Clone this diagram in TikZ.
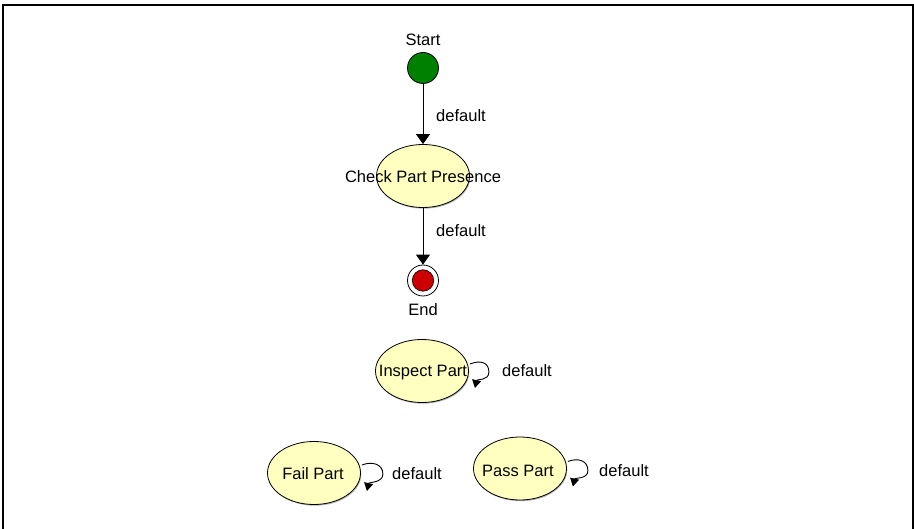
\documentclass[tikz,border=0pt]{standalone}
\usepackage{fontspec}
\setmainfont{Liberation Sans}
\usetikzlibrary{arrows.meta,shapes.geometric,shadows}
\definecolor{stfill}{RGB}{255,255,192}
\definecolor{stgreen}{RGB}{0,128,0}
\definecolor{endred}{RGB}{204,0,0}
\begin{document}
\begin{tikzpicture}[x=1pt,y=-1pt, font=\fontsize{16.5}{19}\selectfont,
  state/.style={ellipse, draw=black, line width=0.8pt, fill=stfill, inner sep=0pt,
    minimum width=93pt, minimum height=63pt,
    drop shadow={shadow xshift=0.8pt, shadow yshift=-1.2pt, fill=black, opacity=0.3}},
  lbl/.style={anchor=base, inner sep=0pt},
  flow/.style={line width=1pt, -{Triangle[width=14pt,length=10pt]}},
  selfloop/.style={line width=0.9pt, -{Triangle[width=9pt,length=8pt]}}]
\useasboundingbox (0,0) rectangle (914,529);
\fill[white] (0,0) rectangle (914,529);
\draw[line width=2pt] (3,529) -- (3,5) -- (913,5) -- (913,529);

% start
\node[circle, draw=black, fill=stgreen, line width=0.8pt, minimum size=31pt, inner sep=0pt] (start) at (423,68) {};
\node[lbl] (starttxt) at (423,46) {Start};

% check part presence
\node[state] (cpp) at (423,176) {};
\node[lbl] (cpptxt) at (423,183) {Check Part Presence};

% end
\node[circle, draw=black, fill=white, line width=0.8pt, minimum size=31pt, inner sep=0pt] (end) at (423,280.5) {};
\node[circle, draw=black, fill=endred, line width=0.6pt, minimum size=21.5pt, inner sep=0pt] (endcore) at (end) {};
\node[lbl] (endtxt) at (423,316) {End};

\draw[flow] (start) -- (cpp);
\draw[flow] (cpp) -- (end);
\node[lbl] (d1) at (461,122) {default};
\node[lbl] (d2) at (461,237) {default};

% inspect part
\node[state] (ip) at (422,371) {};
\node[lbl] (iptxt) at (423,377) {Inspect Part};
\draw[selfloop] ([shift={(1,-7)}]ip.east) .. controls +(10,-4) and +(0,-10) .. ++(19,8)
  .. controls +(0,9) and +(2,-9) .. ++(-14,16);
\node[lbl] (d3) at (527,377) {default};

% fail part
\node[state] (fp) at (314,473) {};
\node[lbl] (fptxt) at (313,480) {Fail Part};
\draw[selfloop] ([shift={(1,-8)}]fp.east) .. controls +(10,-4) and +(0,-10) .. ++(21,9)
  .. controls +(0,9) and +(2,-9) .. ++(-16,17);
\node[lbl] (d4) at (417,480) {default};

% pass part
\node[state] (pp) at (520,468.5) {};
\node[lbl] (pptxt) at (518,477) {Pass Part};
\draw[selfloop] ([shift={(1,-7)}]pp.east) .. controls +(10,-4) and +(0,-10) .. ++(20,9)
  .. controls +(0,9) and +(2,-9) .. ++(-15,16);
\node[lbl] (d5) at (624,477) {default};
\end{tikzpicture}
\end{document}
